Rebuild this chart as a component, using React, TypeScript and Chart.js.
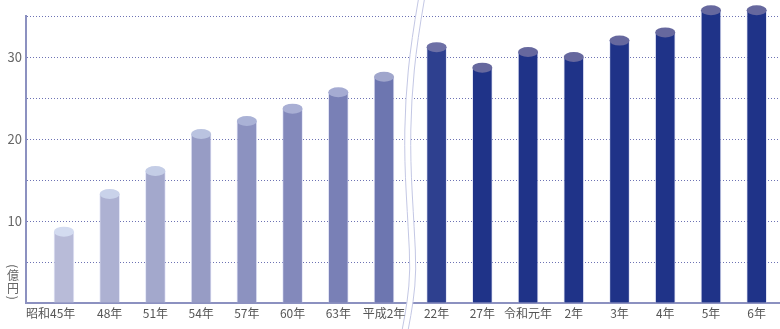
import React, { useEffect, useRef } from "react";
import { Chart, registerables } from "chart.js";

Chart.register(...registerables);

// ---- data ----
const categories = ["昭和45年", "48年", "51年", "54年", "57年", "60年", "63年", "平成2年", "22年", "27年", "令和元年", "2年", "3年", "4年", "5年", "6年"];
const values = [8.7, 13.3, 16.1, 20.6, 22.2, 23.7, 25.7, 27.6, 31.2, 28.7, 30.6, 30.0, 32.0, 33.0, 35.7, 35.7];
const yTickLabels = [10, 20, 30];
const unitLabel = "(億円)";
const breakIndex = 8; // first category after the axis break

// ---- styles ----
const bodyColors = ["#b8bbd8", "#adb1d2", "#a3a8cc", "#979cc5", "#8c92c0", "#8389bb", "#7980b6", "#6d76b0", "#2e408f", "#1f3388", "#1f3388", "#1f3388", "#1f3388", "#1f3388", "#1f3388", "#1f3388"];
const topColors = ["#d3dbf0", "#c9d2ea", "#c4cde6", "#bac3e0", "#aab2d6", "#a9afd4", "#a5abd2", "#a0a6cc", "#6d70a6", "#66689e", "#66689e", "#66689e", "#66689e", "#66689e", "#66689e", "#66689e"];
const FONT = '"Noto Sans CJK JP", "Noto Sans", sans-serif';
const BREAK_GAP = 0.15;

const cylinderTops = {
  id: "cylinderTops",
  afterDatasetsDraw(chart: any) {
    const ctx = chart.ctx;
    const meta = chart.getDatasetMeta(0);
    ctx.save();
    meta.data.forEach((el: any, i: number) => {
      const w = el.width;
      ctx.beginPath();
      ctx.ellipse(el.x, el.y, w / 2, 5, 0, 0, Math.PI * 2);
      ctx.fillStyle = topColors[i];
      ctx.fill();
    });
    ctx.restore();
  },
};

const breakBand = {
  id: "breakBand",
  beforeDatasetsDraw(chart: any) {
    const ctx = chart.ctx;
    const meta = chart.getDatasetMeta(0);
    const a = meta.data[breakIndex - 1].x;
    const b = meta.data[breakIndex].x;
    const cx = (a + b) / 2;
    const H = chart.height;
    const pts: [number, number][] = [
      [11, 0], [4, 40], [-2, 100], [-3, 160], [1, 230], [3, 270], [0, 302], [-5, H],
    ];
    const path = (dx: number) => pts.map(([ox, y]) => [cx + ox + dx, y] as [number, number]);
    const trace = (p: [number, number][], move: boolean) => {
      if (move) ctx.moveTo(p[0][0], p[0][1]);
      else ctx.lineTo(p[0][0], p[0][1]);
      for (let i = 1; i < p.length - 1; i++) {
        const mx = (p[i][0] + p[i + 1][0]) / 2;
        const my = (p[i][1] + p[i + 1][1]) / 2;
        ctx.quadraticCurveTo(p[i][0], p[i][1], mx, my);
      }
      const l = p[p.length - 1];
      ctx.lineTo(l[0], l[1]);
    };
    const L = path(-3);
    const R = path(3);
    ctx.save();
    ctx.beginPath();
    trace(L, true);
    trace([...R].reverse(), false);
    ctx.closePath();
    ctx.fillStyle = "#ffffff";
    ctx.fill();
    ctx.strokeStyle = "#c3c7e4";
    ctx.lineWidth = 1;
    ctx.beginPath();
    trace(L, true);
    ctx.stroke();
    ctx.beginPath();
    trace(R, true);
    ctx.stroke();
    ctx.restore();
  },
};

const textLabels = {
  id: "textLabels",
  afterDraw(chart: any) {
    const ctx = chart.ctx;
    const meta = chart.getDatasetMeta(0);
    const area = chart.chartArea;
    ctx.save();
    ctx.font = `12px ${FONT}`;
    ctx.fillStyle = "#555555";
    ctx.textBaseline = "middle";
    meta.data.forEach((el: any, i: number) => {
      if (i === 0) {
        ctx.textAlign = "left";
        ctx.fillText(categories[i], area.left, area.bottom + 10);
      } else {
        ctx.textAlign = "center";
        ctx.fillText(categories[i], el.x, area.bottom + 10);
      }
    });
    // vertical unit label
    const cx = 13;
    let y = 263;
    ctx.textAlign = "center";
    ctx.fillStyle = "#666666";
    for (const ch of unitLabel) {
      const isParen = ch === "(" || ch === ")";
      const h = isParen ? 6.5 : 12.5;
      const cy = y + h / 2;
      ctx.save();
      ctx.translate(cx, cy);
      if (isParen) ctx.rotate(Math.PI / 2);
      ctx.fillText(ch, 0, 0);
      ctx.restore();
      y += h;
    }
    ctx.restore();
  },
};

export default function App() {
  const ref = useRef<HTMLCanvasElement | null>(null);
  useEffect(() => {
    document.body.style.margin = "0";
    const canvas = ref.current!;
    Chart.defaults.font.family = FONT;
    const points = values.map((v, i) => ({ x: i + (i >= breakIndex ? BREAK_GAP : 0), y: v }));
    const chart = new Chart(canvas, {
      type: "bar",
      data: {
        datasets: [
          {
            data: points as any,
            backgroundColor: bodyColors,
            borderColor: "rgba(205,210,238,0.55)",
            borderWidth: { left: 1, right: 1, top: 0, bottom: 0 } as any,
            borderSkipped: false,
            barThickness: 20,
            clip: false as any,
          },
        ],
      },
      options: {
        responsive: false,
        animation: false,
        devicePixelRatio: 1,
        layout: { padding: { top: 16, right: 0, left: 0, bottom: 0 } },
        plugins: { legend: { display: false }, tooltip: { enabled: false } },
        scales: {
          x: {
            type: "linear",
            min: -0.83,
            max: 15.66,
            offset: false,
            grid: { display: false },
            ticks: { display: false },
            border: { display: true, color: "#8c91c0", width: 2 },
            afterFit: (s: any) => {
              s.height = 26;
            },
          },
          y: {
            min: 0,
            max: 35,
            ticks: {
              stepSize: 5,
              padding: 4,
              color: "#666666",
              font: { size: 13, family: FONT },
              callback: (v: any) => (yTickLabels.includes(Number(v)) ? String(v) : ""),
            },
            grid: {
              drawTicks: false,
              tickLength: 0,
              lineWidth: 1,
              color: (c: any) => (c.tick && c.tick.value === 0 ? "rgba(0,0,0,0)" : "#6d72b4"),
            },
            border: { display: true, color: "#8c91c0", width: 2, dash: [1, 2] },
            afterFit: (s: any) => {
              s.width = 26;
            },
          },
        },
      },
      plugins: [breakBand, cylinderTops, textLabels],
    });
    return () => chart.destroy();
  }, []);
  return (
    <div style={{ position: "absolute", left: 0, top: 0, width: 780, height: 329 }}>
      <canvas ref={ref} width={780} height={329} />
    </div>
  );
}
